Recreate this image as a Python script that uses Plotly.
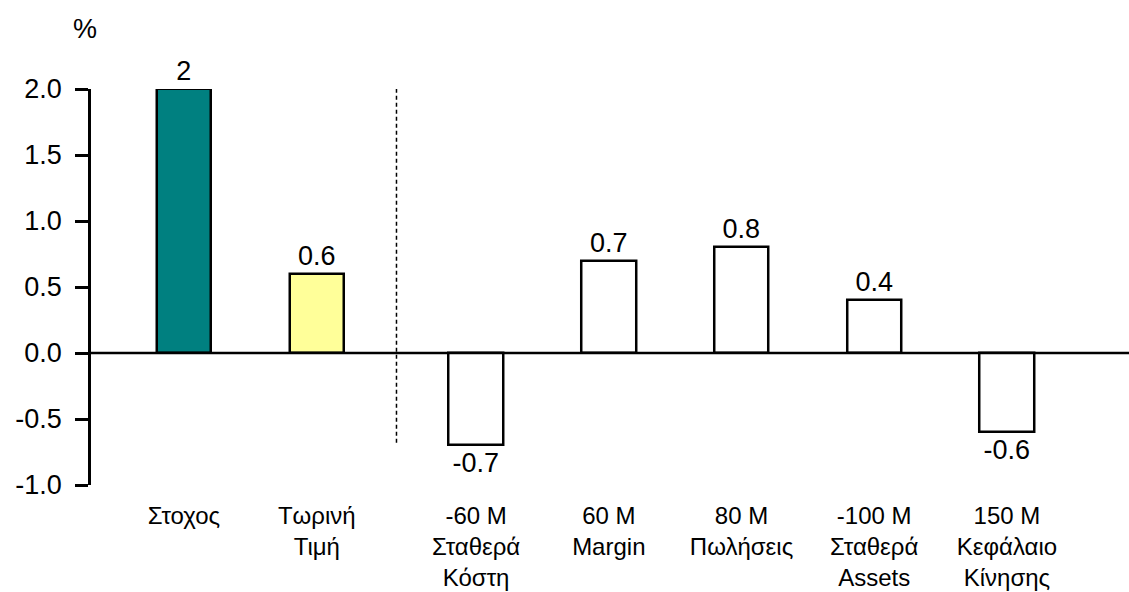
import plotly.graph_objects as go

# Reference columns (left panel) and scenario columns (right panel)
ref_labels = ["Στοχος", "Τωρινή<br>Τιμή"]
ref_values = [2, 0.6]
ref_colors = ["#008080", "#FFFF99"]

scen_labels = [
    "-60 M<br>Σταθερά<br>Κόστη",
    "60 M<br>Margin",
    "80 M<br>Πωλήσεις",
    "-100 M<br>Σταθερά<br>Assets",
    "150 M<br>Κεφάλαιο<br>Κίνησης",
]
scen_values = [-0.7, 0.7, 0.8, 0.4, -0.6]

y_ticks = [-1.0, -0.5, 0.0, 0.5, 1.0, 1.5, 2.0]

FONT = "Liberation Sans, Arial, sans-serif"
FS = 27
FS_CAT = 24
split = 0.2943  # boundary between the two panels (paper fraction)


def fmt(v):
    # plain hyphen for negatives, no trailing zeros
    return f"{v:g}"


fig = go.Figure()

bar_common = dict(
    width=0.41,
    marker_line_color="black",
    marker_line_width=2.5,
    textposition="outside",
    textfont=dict(family=FONT, size=FS, color="black"),
    constraintext="none",
    cliponaxis=False,
    showlegend=False,
    hoverinfo="skip",
)

fig.add_trace(go.Bar(x=ref_labels, y=ref_values, marker_color=ref_colors,
                     text=[fmt(v) for v in ref_values],
                     xaxis="x", yaxis="y", **bar_common))
fig.add_trace(go.Bar(x=scen_labels, y=scen_values, marker_color="white",
                     text=[fmt(v) for v in scen_values],
                     xaxis="x2", yaxis="y", **bar_common))

# zero line across both panels
fig.add_shape(type="line", xref="paper", yref="y", x0=0, x1=1, y0=0, y1=0,
              line=dict(color="black", width=2.5), layer="above")
# dashed separator between reference and scenario columns
fig.add_shape(type="line", xref="paper", yref="y", x0=split, x1=split,
              y0=-0.68, y1=2.0, line=dict(color="black", width=1.5, dash="4px,3px"))

fig.add_annotation(text="%", xref="paper", yref="paper", x=-0.006, y=1.152,
                   xanchor="center", yanchor="middle", showarrow=False,
                   font=dict(family=FONT, size=FS, color="black"))

xcommon = dict(type="category", showline=False, showgrid=False, zeroline=False,
               ticks="", tickfont=dict(family=FONT, size=FS_CAT, color="black"),
               ticklabelstandoff=14, automargin=False, fixedrange=True)

fig.update_layout(
    width=1129, height=592,
    margin=dict(l=91, r=0, t=89, b=107, pad=0),
    paper_bgcolor="white", plot_bgcolor="white",
    font=dict(family=FONT, size=FS, color="black"),
    bargap=0,
    xaxis=dict(domain=[0, split], range=[-0.7, 1.6], anchor="y", **xcommon),
    xaxis2=dict(domain=[split, 1], range=[-0.6, 4.92], anchor="y", **xcommon),
    yaxis=dict(
        range=[-1, 2], anchor="x", tickvals=y_ticks,
        ticktext=[f"{v:.1f}" for v in y_ticks],
        showline=True, linecolor="black", linewidth=2.5,
        ticks="outside", ticklen=13, tickwidth=2.5, tickcolor="black",
        showgrid=False, zeroline=False, ticklabelstandoff=8, automargin=False,
        tickfont=dict(family=FONT, size=FS, color="black"),
    ),
)

fig.write_html("out.html")
